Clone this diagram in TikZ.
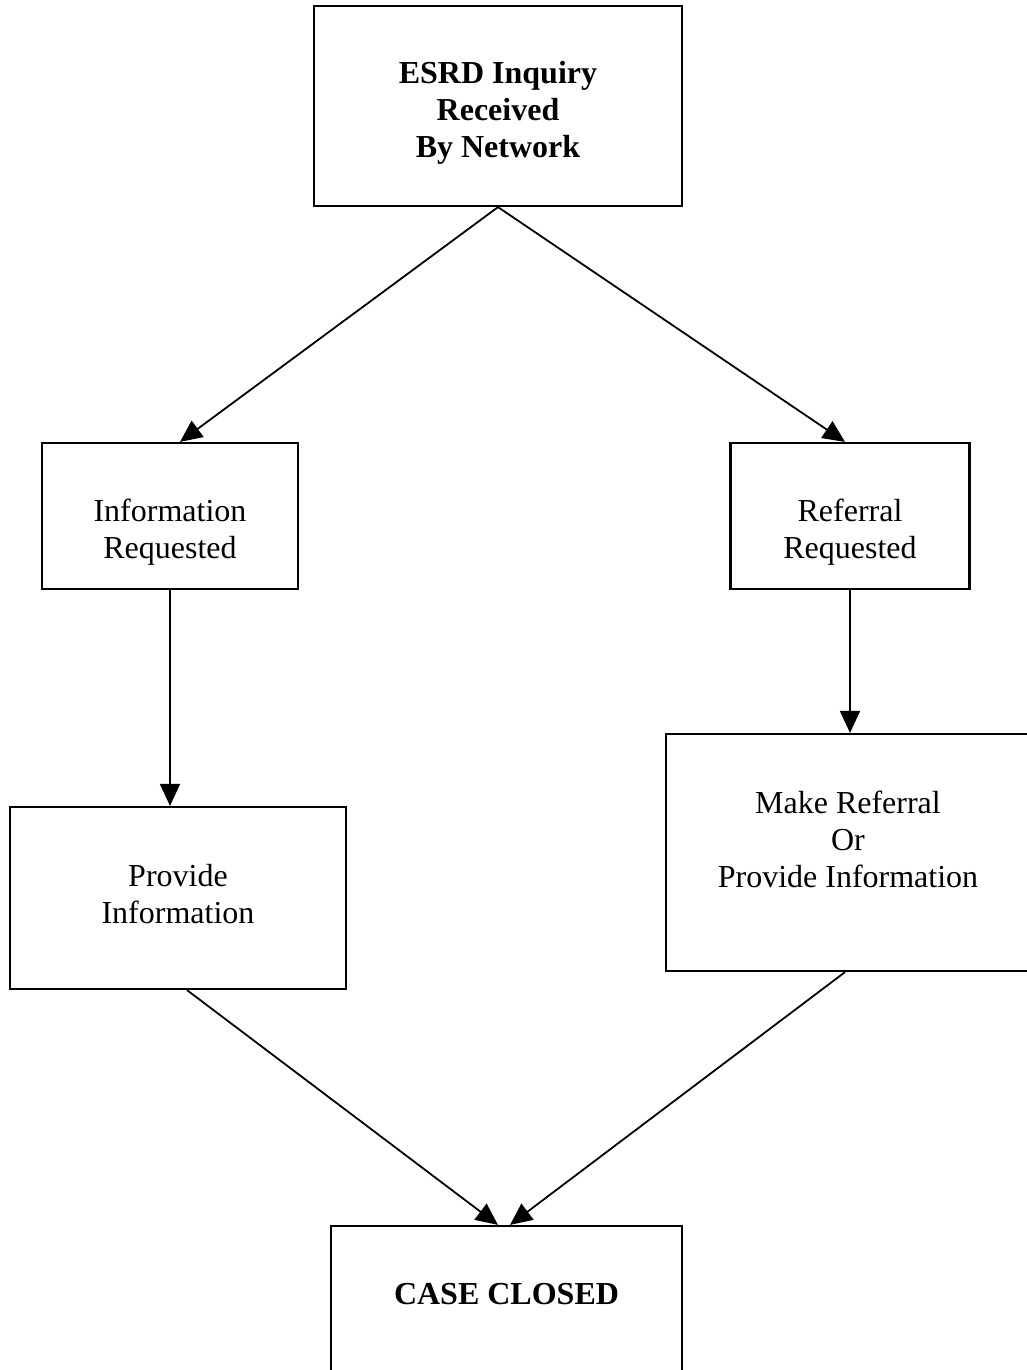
\documentclass[tikz,border=0pt]{standalone}
\usepackage{fontspec}
\setmainfont{Liberation Serif}
\usetikzlibrary{arrows.meta,positioning}
\tikzset{
    box/.style={draw,line width=2.2pt,inner sep=0pt},
    box text/.style={align=center,inner sep=0pt,font=\fontsize{32}{37}\selectfont},
    title text/.style={box text,font=\fontsize{32}{37}\selectfont\bfseries},
    arr/.style={-{Triangle[length=22pt,width=20pt]},line width=1.8pt},
}

\begin{document}
\begin{tikzpicture}[x=1pt,y=-1pt]
    \useasboundingbox (0,0) rectangle (1026,1370);
    % boxes
    \node[box,minimum width=368pt,minimum height=200pt] (inquiry) at (498,106) {};
    \node[box,minimum width=256pt,minimum height=146pt] (inforeq) at (170,516) {};
    \node[box,minimum width=239pt,minimum height=146pt] (refreq) at (850,516) {};
    \node[box,minimum width=336pt,minimum height=182pt] (provide) at (178,898) {};
    \node[box,minimum width=364pt,minimum height=237pt] (makeref) at (848,852.5) {};
    \node[box,minimum width=351pt,minimum height=150pt] (closed) at (506.5,1301) {};
    % texts (yshift is upwards)
    \node[title text] (inquiry text) at ([yshift=-7pt]inquiry.center)
        {ESRD Inquiry\\Received\\By Network};
    \node[box text] (inforeq text) at ([yshift=-16pt]inforeq.center)
        {Information\\Requested};
    \node[box text] (refreq text) at ([yshift=-16pt]refreq.center)
        {Referral\\Requested};
    \node[box text] (provide text) at ([yshift=4pt]provide.center)
        {Provide\\Information};
    \node[box text] (makeref text) at ([yshift=13pt]makeref.center)
        {Make Referral\\Or\\Provide Information};
    \node[title text] (closed text) at ([yshift=7pt]closed.center) {CASE CLOSED};
    % connectors
    \draw[arr] (inquiry.south) -- ([xshift=10pt]inforeq.north);
    \draw[arr] (inquiry.south) -- ([xshift=-5pt]refreq.north);
    \draw[arr] (inforeq.south) -- (inforeq.south |- provide.north);
    \draw[arr] (refreq.south) -- (refreq.south |- makeref.north);
    \draw[arr] ([xshift=9pt]provide.south) -- ([xshift=-8.5pt]closed.north);
    \draw[arr] ([xshift=-3pt]makeref.south) -- ([xshift=3.5pt]closed.north);
\end{tikzpicture}
\end{document}
